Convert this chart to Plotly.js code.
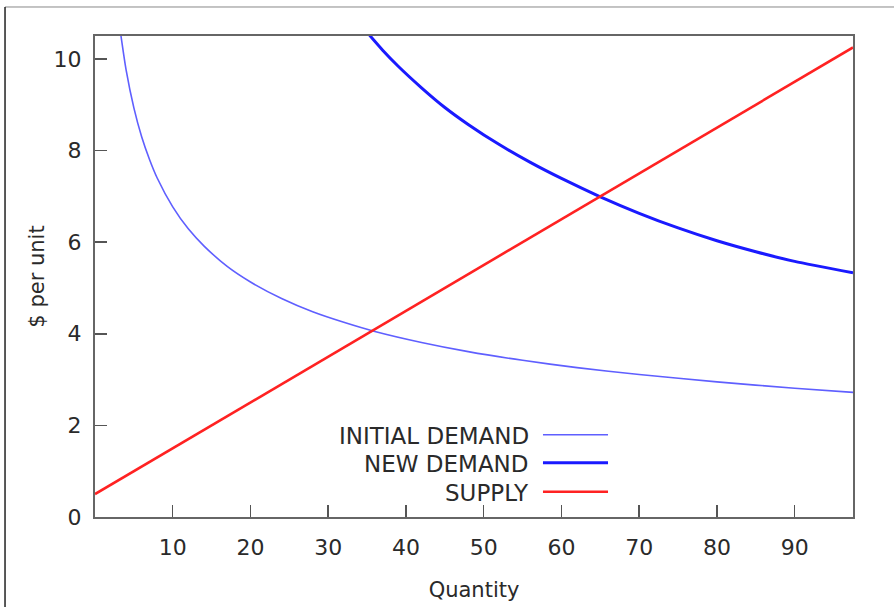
<!DOCTYPE html>
<html>
<head>
<meta charset="utf-8">
<script src="https://cdn.plot.ly/plotly-3.0.1.min.js"></script>
<style>html,body{margin:0;padding:0;background:#fff;}#chart{width:894px;height:607px;}</style>
</head>
<body>
<div id="chart"></div>
<script>
// Series names
const seriesNames = ["INITIAL DEMAND", "NEW DEMAND", "SUPPLY"];

// Initial demand
const initialX = [3.3, 4, 5, 6, 7, 8, 10, 12, 14, 17, 20, 24, 28, 32, 36, 42, 48, 55, 62, 70, 80, 90, 97.5];
const initialY = [10.55, 9.76, 8.93, 8.30, 7.81, 7.40, 6.77, 6.29, 5.92, 5.47, 5.13, 4.77, 4.48, 4.25, 4.05, 3.81, 3.61, 3.42, 3.26, 3.11, 2.95, 2.81, 2.72];

// New demand
const newX = [35.3, 37, 39, 42, 45, 48, 52, 56, 60, 65, 70, 75, 80, 85, 90, 97.5];
const newY = [10.52, 10.19, 9.84, 9.37, 8.94, 8.57, 8.13, 7.74, 7.39, 6.99, 6.63, 6.31, 6.03, 5.79, 5.58, 5.33];

// Supply
const supplyX = [0, 10, 20, 30, 40, 50, 60, 70, 80, 90, 97.5];
const supplyY = [0.5, 1.5, 2.5, 3.5, 4.5, 5.5, 6.5, 7.5, 8.5, 9.5, 10.25];

// Tick values
const xTicks = [10, 20, 30, 40, 50, 60, 70, 80, 90];
const yTicks = [0, 2, 4, 6, 8, 10];

const colors = ["#5f5fff", "#1a1aff", "#ff2222"];
const widths = [1.6, 3, 2.6];

const FONT = "DejaVu Sans, Verdana, sans-serif";
const TXT = "#2a2a2a";

const traces = [
  {x: initialX, y: initialY, name: seriesNames[0], mode: "lines", line: {color: colors[0], width: widths[0], shape: "spline", smoothing: 0.6}},
  {x: newX, y: newY, name: seriesNames[1], mode: "lines", line: {color: colors[1], width: widths[1], shape: "spline", smoothing: 0.6}},
  {x: supplyX, y: supplyY, name: seriesNames[2], mode: "lines", line: {color: colors[2], width: widths[2]}}
];

// Legend drawn gnuplot-style: text right-aligned, sample line to the right
const legendRowsY = [0.169, 0.1108, 0.0506];
const annotations = seriesNames.map((n, i) => ({
  xref: "paper", yref: "paper", x: 0.5752, y: legendRowsY[i],
  xanchor: "right", yanchor: "middle", text: n, showarrow: false,
  font: {family: FONT, size: 23, color: TXT}
}));
const shapes = seriesNames.map((n, i) => ({
  type: "line", xref: "paper", yref: "paper",
  x0: 0.591, x1: 0.6768, y0: legendRowsY[i] + 0.002, y1: legendRowsY[i] + 0.002,
  line: {color: colors[i], width: widths[i]}
}));
// outer image frame (top and left edges)
shapes.push({type: "line", xref: "paper", yref: "paper", x0: -0.1187, x1: 1.06, y0: 1.0603, y1: 1.0603, line: {color: "#888", width: 1}});
shapes.push({type: "line", xref: "paper", yref: "paper", x0: -0.1187, x1: -0.1187, y0: 1.0603, y1: -0.2, line: {color: "#222", width: 1.5}});

const axisCommon = {
  showgrid: false, zeroline: false, showline: true, mirror: true,
  linecolor: "#666", linewidth: 2,
  ticks: "inside", ticklen: 12, tickwidth: 1.5, tickcolor: "#555",
  tickfont: {family: FONT, size: 22, color: TXT}
};

const layout = {
  width: 894, height: 607,
  margin: {l: 95, r: 41, t: 36, b: 90},
  paper_bgcolor: "#fff", plot_bgcolor: "#fff",
  showlegend: false,
  xaxis: Object.assign({}, axisCommon, {
    range: [0, 97.5], tickmode: "array", tickvals: xTicks, ticktext: xTicks.map(String),
    ticklabelstandoff: 10,
    title: {text: "Quantity", font: {family: FONT, size: 21, color: TXT}, standoff: 23}
  }),
  yaxis: Object.assign({}, axisCommon, {
    range: [0, 10.5], tickmode: "array", tickvals: yTicks, ticktext: yTicks.map(String),
    ticklabelstandoff: 7,
    title: {text: "$ per unit", font: {family: FONT, size: 21, color: TXT}, standoff: 3}
  }),
  annotations: annotations,
  shapes: shapes
};

Plotly.newPlot("chart", traces, layout, {staticPlot: true, displayModeBar: false});
</script>
</body>
</html>
